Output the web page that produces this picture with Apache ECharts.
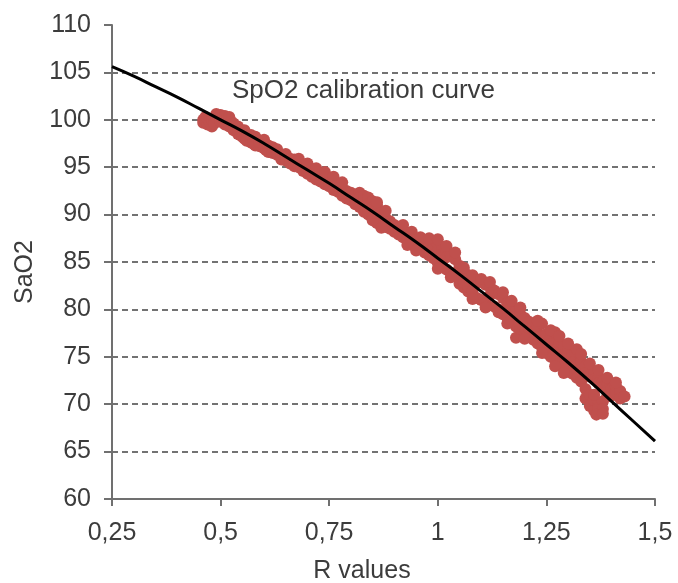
<!DOCTYPE html>
<html><head><meta charset="utf-8">
<script src="https://cdn.jsdelivr.net/npm/echarts@6/dist/echarts.min.js"></script>
<style>html,body{margin:0;padding:0;background:#fff}#c{width:678px;height:583px}</style>
</head><body><div id="c"></div>
<script>
// Calibration curve (R value, SaO2)
const curveR = [0.25,0.30,0.35,0.40,0.45,0.50,0.55,0.60,0.65,0.70,0.75,0.80,0.85,0.90,0.95,1.00,1.05,1.10,1.15,1.20,1.25,1.30,1.35,1.40,1.45,1.50];
const curveSaO2 = [105.6,104.6,103.5,102.4,101.2,100.0,98.8,97.5,96.1,94.7,93.3,91.8,90.3,88.7,87.1,85.4,83.7,81.9,80.1,78.2,76.3,74.4,72.4,70.3,68.2,66.1];

// Measured points
const pointR = [
0.460,0.460,0.465,0.465,0.470,0.470,0.475,0.480,0.480,0.485,0.490,0.490,0.495,0.500,0.500,0.505,0.510,0.510,0.515,0.520,0.520,0.525,0.530,0.530,0.540,0.540,0.545,0.550,0.550,0.555,0.555,0.560,0.560,0.570,0.570,0.575,0.580,0.580,0.590,0.590,
0.600,0.600,0.605,0.610,0.610,0.620,0.620,0.630,0.630,0.640,0.640,0.650,0.650,0.660,0.660,0.670,0.670,0.680,0.680,0.690,0.690,0.700,0.700,0.710,0.710,0.720,0.720,0.730,0.730,0.740,0.740,0.750,0.750,0.760,0.760,0.770,0.770,0.780,0.780,0.790,0.790,
0.800,0.800,0.810,0.810,0.810,0.820,0.820,0.820,0.830,0.830,0.830,0.840,0.840,0.840,0.850,0.850,0.850,0.860,0.860,0.860,0.870,0.870,0.880,0.880,0.890,0.890,0.900,0.900,0.910,0.910,0.920,0.920,0.930,0.930,0.940,0.940,0.950,0.950,0.960,0.960,
0.970,0.970,0.970,0.980,0.980,0.980,0.990,0.990,0.990,1.000,1.000,1.000,1.010,1.010,1.010,1.020,1.020,1.020,1.030,1.030,1.040,1.040,1.050,1.050,1.050,1.060,1.060,1.060,1.070,1.070,1.070,1.080,1.080,1.080,1.090,1.090,
1.100,1.100,1.110,1.110,1.120,1.120,1.130,1.130,1.140,1.140,1.140,1.150,1.150,1.160,1.160,1.170,1.170,1.180,1.180,1.180,1.190,1.190,1.200,1.200,1.210,1.210,1.210,1.220,1.220,1.220,1.230,1.230,1.240,1.240,1.240,
1.250,1.250,1.250,1.260,1.260,1.260,1.270,1.270,1.270,1.280,1.280,1.280,1.290,1.290,1.290,1.300,1.300,1.300,1.310,1.310,1.310,1.320,1.320,1.320,1.330,1.330,1.330,
1.340,1.340,1.340,1.340,1.350,1.350,1.350,1.350,1.360,1.360,1.360,1.360,1.370,1.370,1.370,1.370,1.380,1.380,1.380,1.380,1.390,1.390,1.390,1.400,1.400,1.410,1.410,1.420,1.420,1.430,
0.680,0.700,0.720,0.740,0.760,0.780,0.850,0.860,0.870,0.880,0.920,0.930,0.940,0.950,0.960,0.980,1.000,1.000,1.020,1.030,1.040,
1.060,1.080,1.080,1.100,1.110,1.120,1.150,1.160,1.170,1.190,1.200,1.230,1.240,1.260,1.270,1.280,1.290,1.300,
1.330,1.350,1.360,1.365,1.370,1.380,1.390,1.410];
const pointSaO2 = [
100.0,99.7,99.9,100.3,99.5,100.1,99.8,99.3,100.0,99.6,100.2,100.6,100.4,100.5,99.8,100.3,100.4,99.5,100.2,100.3,99.3,99.8,99.6,98.9,99.3,98.5,98.4,98.2,98.7,98.0,98.9,98.1,97.8,97.6,98.4,97.5,97.3,98.2,97.2,97.6,
97.0,97.9,96.8,97.3,96.6,96.5,97.1,96.3,96.9,96.2,95.8,96.4,95.7,95.9,95.4,95.8,95.1,95.5,95.0,95.3,94.6,94.9,94.3,94.8,94.0,94.3,93.7,93.5,94.2,93.2,93.9,93.0,93.6,92.6,93.4,92.4,93.0,92.0,92.8,91.7,92.5,
91.5,92.3,91.1,92.1,91.6,92.3,90.8,91.8,92.0,90.3,91.5,91.8,90.0,91.1,91.4,89.7,90.8,91.0,89.4,89.1,90.3,89.0,89.6,88.7,89.3,88.5,88.9,88.2,88.6,87.9,88.3,87.6,88.0,87.3,87.7,86.9,87.3,86.6,87.0,86.4,
86.9,86.0,87.3,87.2,85.7,86.6,87.0,85.4,86.5,86.8,84.9,86.2,86.6,84.6,85.8,86.2,84.2,85.5,85.8,83.9,85.3,83.5,84.6,82.7,83.2,84.0,82.3,82.8,83.6,81.9,82.4,83.1,81.6,82.0,82.8,81.2,
82.9,81.0,82.6,80.7,82.4,81.5,82.0,80.3,81.6,80.0,79.7,81.2,79.5,80.6,79.1,80.2,78.9,79.8,78.2,77.0,79.5,77.9,79.1,77.5,78.7,77.2,78.0,78.4,76.8,77.6,78.2,76.4,78.5,76.0,77.2,
77.4,75.4,76.6,77.0,75.0,76.3,77.6,74.7,75.7,76.4,74.3,75.5,76.1,73.9,75.2,75.6,73.6,74.8,75.2,73.2,74.4,75.8,72.8,74.2,74.5,72.4,73.6,
74.0,71.6,70.6,73.3,73.5,71.0,69.8,72.9,73.2,70.4,69.3,72.6,72.8,70.0,69.6,72.2,72.4,70.3,69.5,71.8,72.0,70.8,71.5,71.6,70.9,71.9,71.2,71.4,70.6,70.8,
95.9,95.4,94.9,94.5,94.0,93.4,89.4,91.3,88.6,90.4,88.9,86.8,88.2,86.2,87.6,87.5,87.4,84.3,86.7,83.4,86.0,
84.4,83.6,81.1,83.2,80.2,82.9,81.8,78.5,80.9,80.2,76.9,78.8,75.4,77.8,74.0,77.2,73.3,76.4,
75.3,74.3,71.0,68.9,73.6,69.0,72.8,72.3];

// Axis ticks
const xTicks = [0.25, 0.5, 0.75, 1, 1.25, 1.5];
const yTicks = [60, 65, 70, 75, 80, 85, 90, 95, 100, 105, 110];

const scatterData = pointR.map((r, i) => [r, pointSaO2[i]]);
const curveData = curveR.map((r, i) => [r, curveSaO2[i]]);

const FONT = 'Liberation Sans, Arial, sans-serif';
const TXT = '#3c3c3c';
const chart = echarts.init(document.getElementById('c'), null, {renderer: 'canvas'});
chart.setOption({
  animation: false,
  backgroundColor: '#fff',
  title: {
    text: 'SpO2 calibration curve',
    left: 227, top: 73,
    textStyle: {fontFamily: FONT, fontSize: 26, fontWeight: 'normal', color: TXT}
  },
  grid: {left: 112, right: 23, top: 25, bottom: 84, containLabel: false},
  xAxis: {
    type: 'value',
    min: xTicks[0], max: xTicks[xTicks.length - 1], interval: 0.25,
    axisLine: {show: true, onZero: false, lineStyle: {color: '#707070', width: 2}},
    axisTick: {show: true, length: 7, lineStyle: {color: '#707070', width: 2}},
    axisLabel: {margin: 22, fontFamily: FONT, fontSize: 25, color: TXT,
      formatter: v => String(+v.toFixed(2)).replace('.', ',')},
    splitLine: {show: false}
  },
  yAxis: {
    type: 'value',
    min: yTicks[0], max: yTicks[yTicks.length - 1], interval: 5,
    axisLine: {show: true, onZero: false, lineStyle: {color: '#707070', width: 2}},
    axisTick: {show: true, length: 8, lineStyle: {color: '#707070', width: 2}},
    axisLabel: {margin: 21, fontFamily: FONT, fontSize: 25, color: TXT},
    splitLine: {show: true, showMaxLine: false, lineStyle: {color: '#444', width: 1.6, type: [6, 4]}}
  },
  graphic: [
    {type: 'text', x: 362, y: 571, style: {text: 'R values', font: '25px ' + FONT, fill: TXT, textAlign: 'center', textVerticalAlign: 'middle'}},
    {type: 'text', x: 25, y: 272, rotation: Math.PI / 2, style: {text: 'SaO2', font: '25px ' + FONT, fill: TXT, textAlign: 'center', textVerticalAlign: 'middle'}}
  ],
  series: [
    {type: 'scatter', data: scatterData, symbolSize: 12, itemStyle: {color: '#c0504d', opacity: 1}, z: 2},
    {type: 'line', data: curveData, showSymbol: false, smooth: true, lineStyle: {color: '#000', width: 3}, z: 3}
  ]
});
</script></body></html>
